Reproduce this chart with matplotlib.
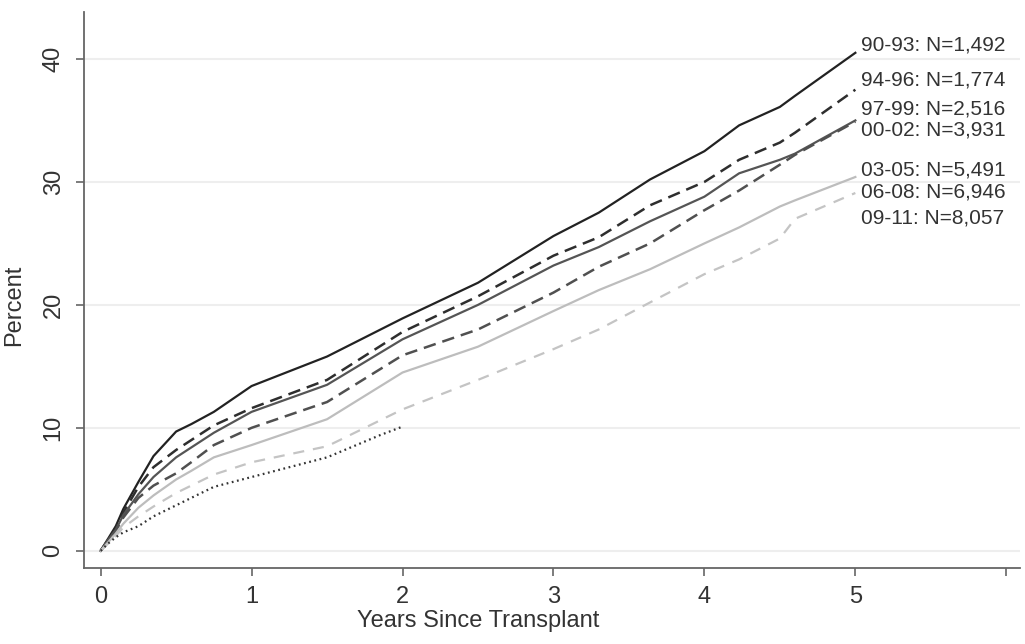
import matplotlib
matplotlib.use("Agg")
import matplotlib.pyplot as plt

# years since transplant (sampling points)
years = [0, 0.05, 0.1, 0.15, 0.25, 0.35, 0.5, 0.6, 0.75, 1.0, 1.5, 2.0,
         2.5, 3.0, 3.3, 3.64, 4.0, 4.23, 4.5, 4.6, 5.0]

era_90_93 = [0, 1.0, 2.0, 3.4, 5.6, 7.7, 9.7, 10.3, 11.3, 13.4, 15.8, 18.9,
             21.8, 25.6, 27.5, 30.2, 32.5, 34.6, 36.1, 37.0, 40.5]
era_94_96 = [0, 0.9, 1.8, 3.1, 5.2, 6.8, 8.2, 9.0, 10.2, 11.6, 13.9, 17.8,
             20.7, 24.0, 25.5, 28.1, 30.0, 31.8, 33.2, 34.0, 37.5]
era_97_99 = [0, 0.9, 1.7, 2.9, 4.6, 6.0, 7.6, 8.4, 9.6, 11.3, 13.5, 17.2,
             20.0, 23.2, 24.7, 26.8, 28.8, 30.7, 31.8, 32.3, 35.0]
era_00_02 = [0, 0.8, 1.6, 2.7, 4.3, 5.3, 6.3, 7.2, 8.6, 10.0, 12.1, 15.9,
             18.0, 21.0, 23.1, 25.0, 27.7, 29.3, 31.4, 32.2, 34.9]
era_03_05 = [0, 0.7, 1.4, 2.2, 3.5, 4.5, 5.8, 6.5, 7.6, 8.6, 10.7, 14.5,
             16.6, 19.5, 21.2, 22.9, 25.0, 26.3, 28.0, 28.5, 30.4]
era_06_08 = [0, 0.6, 1.2, 1.9, 2.8, 3.6, 4.7, 5.3, 6.2, 7.2, 8.5, 11.5,
             13.9, 16.4, 18.0, 20.2, 22.5, 23.7, 25.4, 27.0, 29.1]
# 09-11 cohort only followed up to 2 years
years_09_11 = [0, 0.05, 0.1, 0.15, 0.25, 0.35, 0.5, 0.6, 0.75, 1.0, 1.5,
               1.85, 2.0]
era_09_11 = [0, 0.6, 1.1, 1.5, 2.0, 2.8, 3.7, 4.3, 5.2, 6.0, 7.6, 9.4, 10.1]

labels = ["90-93: N=1,492", "94-96: N=1,774", "97-99: N=2,516",
          "00-02: N=3,931", "03-05: N=5,491", "06-08: N=6,946",
          "09-11: N=8,057"]
label_y = [41.1, 38.3, 35.9, 34.2, 31.0, 29.2, 27.1]

plt.rcParams['font.family'] = ['Liberation Sans', 'DejaVu Sans']

fig = plt.figure(figsize=(10.25, 6.44), dpi=100)
ax = fig.add_axes([0.082, 0.118, 0.913, 0.863])

ax.plot(years, era_90_93, color='#222222', lw=1.6)
ax.plot(years, era_94_96, color='#2e2e2e', lw=1.8, dashes=(5, 2.8))
ax.plot(years, era_97_99, color='#555555', lw=1.6)
ax.plot(years, era_00_02, color='#505050', lw=1.8, dashes=(5, 2.8))
ax.plot(years, era_03_05, color='#bdbdbd', lw=1.6)
ax.plot(years, era_06_08, color='#c4c4c4', lw=1.6, dashes=(5, 4))
ax.plot(years_09_11, era_09_11, color='#333333', lw=1.6, dashes=(0.8, 1.6))

for lab, yy in zip(labels, label_y):
    ax.text(5.04, yy, lab, fontsize=15, color='#333333', va='center',
            ha='left')

ax.set_xlim(-0.11, 6.09)
ax.set_ylim(-1.4, 43.8)
ax.set_xticks(range(7))
ax.set_xticklabels(['0', '1', '2', '3', '4', '5', ''])
ax.set_yticks([0, 10, 20, 30, 40])
for t in ax.get_yticklabels():
    t.set_rotation(90)
    t.set_va('center')

ax.yaxis.grid(True, color='#eeeeee', lw=1.5)
ax.set_axisbelow(True)
for side in ['top', 'right']:
    ax.spines[side].set_visible(False)
for side in ['left', 'bottom']:
    ax.spines[side].set_color('#666666')
    ax.spines[side].set_linewidth(1.3)
ax.tick_params(axis='both', direction='out', length=6, width=1.2,
               color='#666666', labelsize=17, labelcolor='#333333')
ax.tick_params(axis='x', pad=7)
ax.tick_params(axis='y', pad=8)

ax.set_xlabel('Years Since Transplant', fontsize=17, color='#333333',
              labelpad=2)
ax.set_ylabel('Percent', fontsize=17, color='#333333')
ax.xaxis.set_label_coords(0.421, -0.075)
ax.yaxis.set_label_coords(-0.063, 0.473)

fig.savefig('out.png', dpi=100)
